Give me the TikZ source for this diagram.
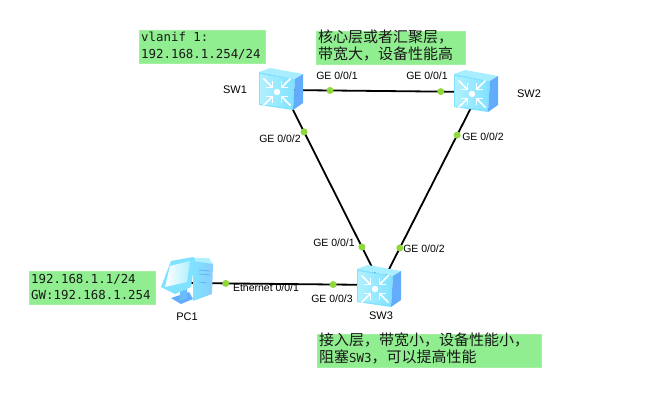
\documentclass[tikz,border=0pt]{standalone}
\usepackage{fontspec}
\setmainfont{Liberation Sans}
\newfontfamily\notemono{DejaVu Sans Mono}
\newfontfamily\notecjk{Noto Sans CJK SC}
\definecolor{notegreen}{HTML}{90EE90}
\definecolor{portgreen}{HTML}{8FD83A}
\definecolor{faceA}{HTML}{B0F0FF}
\definecolor{faceB}{HTML}{80E2FF}
\definecolor{sideblue}{HTML}{62ACFB}
\definecolor{topblue}{HTML}{A8EEFF}
\tikzset{
  x=1pt,y=-1pt,
  link/.style={line width=1.8pt,black},
  portdot/.style={circle,fill=portgreen,draw=none,inner sep=0pt,minimum size=7pt},
  portlabel/.style={font=\fontsize{10.5}{12}\selectfont,inner sep=0pt,text=black},
  devlabel/.style={font=\fontsize{11}{13}\selectfont,inner sep=0pt,text=black},
  notebox/.style={fill=notegreen,draw=notegreen!85!white,line width=.4pt,anchor=north west,inner sep=0pt},
  notetext/.style={anchor=west,inner sep=0pt,text=black!90},
  anchorpt/.style={inner sep=0pt,minimum size=0pt},
  arm/.style={white,line width=1.7pt},
  pics/switchicon/.style={code={
    % local origin: centre of the device
    \fill[topblue] (-23,-18) -- (-12,-22) -- (21,-16) -- (13,-11) -- cycle;
    \fill[faceB] (-23,-18) -- (13,-11) -- (11,20) -- (-23,15) -- cycle;
    \shade[left color=faceA,right color=faceB] (-22,-16) -- (12,-10) -- (10,18) -- (-22,14) -- cycle;
    \fill[sideblue] (13,-11) -- (21,-16) -- (21,13) -- (11,20) -- cycle;
    \fill[white] (-5,2) circle (3.2);
    \foreach \sx/\sy in {1/1,1/-1,-1/1,-1/-1}{
      \begin{scope}[shift={(-5,2)},xscale=\sx,yscale=\sy]
        \draw[arm] (13.5,13.5) -- (5,5);
        \draw[arm] (4.5,11) -- (4.5,4.5) -- (11,4.5);
      \end{scope}}
  }},
  pics/pcicon/.style={code={
    % tower behind the monitor
    \fill[faceA] (4,-25) -- (22,-25) -- (26,-19) -- (8,-20) -- cycle;
    \shade[left color=faceB,right color=sideblue!50!faceA] (6,-22) -- (26,-19) -- (25,11) -- (6,18) -- cycle;
    \draw[sideblue,line width=.7pt] (12,-13) -- (23,-12) (12,-9) -- (23,-8) (12,-1) -- (20,0);
    % stand
    \fill[sideblue] (-16,15) -- (2,9) -- (6,16) -- (-6,21) -- cycle;
    \fill[sideblue!70!faceB] (-7,8) -- (0,6) -- (0,15) -- (-7,18) -- cycle;
    % monitor
    \fill[faceB] (-16,-22) -- (6,-26) -- (8,-24) -- (4,4) -- (-12,11) -- (-26,4) -- cycle;
    \shade[left color=white,right color=faceA] (-17,-17) -- (3,-22) -- (0,-1) -- (-22,4) -- cycle;
  }}
}
\begin{document}
\begin{tikzpicture}
\useasboundingbox (0,0) rectangle (666,417);

% device positions
\node[anchorpt] (sw1) at (283,90) {};
\node[anchorpt] (sw2) at (479,92) {};
\node[anchorpt] (sw3) at (381,285) {};
\node[anchorpt] (pc1) at (187,283) {};

% links with their port markers
\draw[link] (sw1.center) -- node[portdot,pos=.24] (p1a) {} node[portdot,pos=.805] (p2a) {} (sw2.center);
\draw[link] (sw1.center) -- node[portdot,pos=.215] (p1b) {} node[portdot,pos=.805] (p3a) {} (sw3.center);
\draw[link] (sw2.center) -- node[portdot,pos=.223] (p2b) {} node[portdot,pos=.808] (p3b) {} (sw3.center);
\draw[link] (pc1.center) -- node[portdot,pos=.2] (pcp) {} node[portdot,pos=.753] (p3c) {} (sw3.center);

% devices
\pic at (282,90) {switchicon};
\pic at (477,92) {switchicon};
\pic at (380,287) {switchicon};
\pic at (187,283) {pcicon};

% device names
\node[devlabel] (l1) at (235,90) {SW1};
\node[devlabel] (l2) at (529,94) {SW2};
\node[devlabel] (l3) at (381,316) {SW3};
\node[devlabel] (l4) at (187,317) {PC1};

% port names
\node[portlabel] (t1) at (337,76) {GE 0/0/1};
\node[portlabel] (t2) at (427,76) {GE 0/0/1};
\node[portlabel] (t3) at (280,139) {GE 0/0/2};
\node[portlabel] (t4) at (483,137) {GE 0/0/2};
\node[portlabel] (t5) at (334,243) {GE 0/0/1};
\node[portlabel] (t6) at (424,249) {GE 0/0/2};
\node[portlabel] (t7) at (332,299) {GE 0/0/3};
\node[portlabel] (t8) at (266,288) {Ethernet 0/0/1};

% notes
\node[notebox,minimum width=126pt,minimum height=33pt] (n1) at (139,30) {};
\node[notetext,font=\notemono\fontsize{12.4}{14}\selectfont] at (141,37) {vlanif 1:};
\node[notetext,font=\notemono\fontsize{12.4}{14}\selectfont] at (141,54) {192.168.1.254/24};

\node[notebox,minimum width=149pt,minimum height=33pt] (n2) at (316,31) {};
\node[notetext,font=\notecjk\fontsize{15}{17}\selectfont] at (318,37) {核心层或者汇聚层，};
\node[notetext,font=\notecjk\fontsize{15}{17}\selectfont] at (318,54) {带宽大，设备性能高};

\node[notebox,minimum width=126pt,minimum height=33pt] (n3) at (29,271) {};
\node[notetext,font=\notemono\fontsize{12.4}{14}\selectfont] at (31,279) {192.168.1.1/24};
\node[notetext,font=\notemono\fontsize{12.4}{14}\selectfont] at (31,295) {GW:192.168.1.254};

\node[notebox,minimum width=224pt,minimum height=33pt] (n4) at (317,334) {};
\node[notetext,font=\notecjk\fontsize{15}{17}\selectfont] at (319,340) {接入层，带宽小，设备性能小，};
\node[notetext,font=\notecjk\fontsize{15}{17}\selectfont] at (319,357) {阻塞{\notemono\fontsize{12.4}{14}\selectfont SW3}，可以提高性能};
\end{tikzpicture}
\end{document}
